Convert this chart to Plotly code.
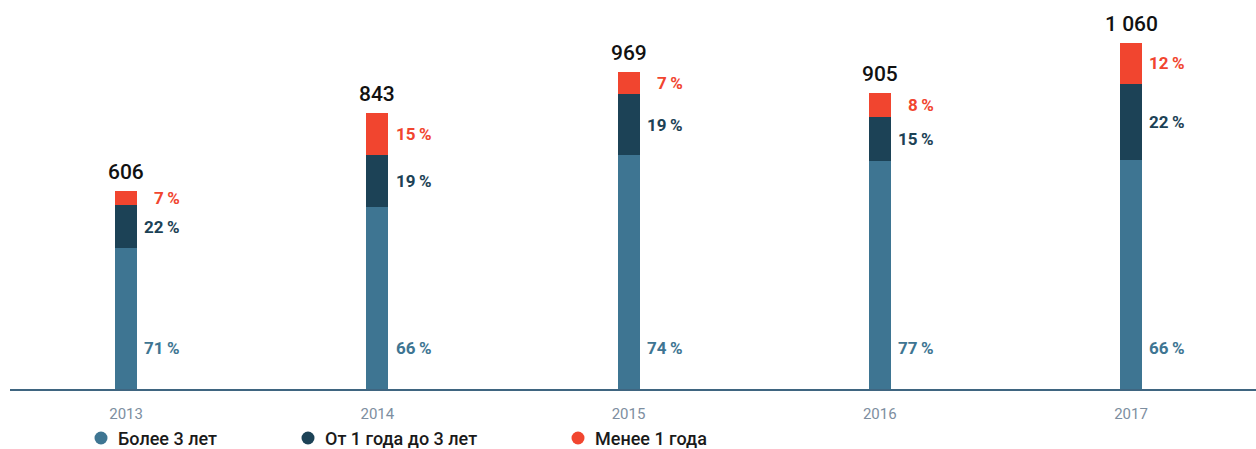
import plotly.graph_objects as go

years = ["2013", "2014", "2015", "2016", "2017"]
totals = [606, 843, 969, 905, 1060]
total_labels = ["606", "843", "969", "905", "1 060"]
pct_over3 = [71, 66, 74, 77, 66]
pct_1to3 = [22, 19, 19, 15, 22]
pct_under1 = [7, 15, 7, 8, 12]
series_names = ["Более 3 лет", "От 1 года до 3 лет", "Менее 1 года"]

C_BLUE = "#3e7592"
C_DARK = "#1c4256"
C_RED = "#f1452f"
FONT = "Roboto"

W, H = 1256, 449
ML, MR, MT, MB = 10, 0, 0, 60
plot_w = W - ML - MR
plot_h = H - MT - MB

v_over3 = [t * p / 100 for t, p in zip(totals, pct_over3)]
v_1to3 = [t * p / 100 for t, p in zip(totals, pct_1to3)]
v_under1 = [t - a - b for t, a, b in zip(totals, v_over3, v_1to3)]

fig = go.Figure()
for vals, col, name in [(v_over3, C_BLUE, series_names[0]),
                        (v_1to3, C_DARK, series_names[1]),
                        (v_under1, C_RED, series_names[2])]:
    fig.add_trace(go.Bar(x=years, y=vals, name=name, marker_color=col,
                         marker_line_width=0, width=0.0876, showlegend=False))

ann = []
dx = 0.224
for i, y in enumerate(years):
    ann.append(dict(x=i + dx, y=125, text=f"{pct_over3[i]}\u2009%", xanchor="right", yanchor="middle",
                    showarrow=False, font=dict(family=FONT, size=17, color=C_BLUE, weight="bold")))
    ann.append(dict(x=i + dx, y=v_over3[i] + v_1to3[i] / 2, text=f"{pct_1to3[i]}\u2009%", xanchor="right",
                    yanchor="middle", showarrow=False,
                    font=dict(family=FONT, size=17, color=C_DARK, weight="bold")))
    ann.append(dict(x=i + dx, y=v_over3[i] + v_1to3[i] + v_under1[i] / 2, text=f"{pct_under1[i]}\u2009%",
                    xanchor="right", yanchor="middle", showarrow=False,
                    font=dict(family=FONT, size=17, color=C_RED, weight="bold")))
    ann.append(dict(x=i, y=totals[i], text=total_labels[i], xanchor="center", yanchor="bottom", yshift=5,
                    showarrow=False, font=dict(family=FONT, size=21, color="#111111", weight=500)))

leg_cx = [101, 308, 578]
leg_cols = [C_BLUE, C_DARK, C_RED]
leg_y_px = 438
shapes = []
for cx, col, name in zip(leg_cx, leg_cols, series_names):
    px = (cx - ML) / plot_w
    py = (plot_h - (leg_y_px - MT)) / plot_h
    shapes.append(dict(type="circle", xref="paper", yref="paper", xsizemode="pixel", ysizemode="pixel",
                       xanchor=px, yanchor=py, x0=-6.5, x1=6.5, y0=-6.5, y1=6.5,
                       fillcolor=col, line_width=0))
    ann.append(dict(x=(cx + 15 - ML) / plot_w, y=py, xref="paper", yref="paper", text=name,
                    xanchor="left", yanchor="middle", showarrow=False,
                    font=dict(family=FONT, size=18, color="#1a1a1a", weight=500)))

fig.update_layout(
    width=W, height=H,
    margin=dict(l=ML, r=MR, t=MT, b=MB),
    barmode="stack",
    plot_bgcolor="white", paper_bgcolor="white",
    annotations=ann, shapes=shapes,
    xaxis=dict(type="category", range=[-0.462, 4.4975], showline=True, linecolor="#3f6580", linewidth=2,
               showgrid=False, zeroline=False, ticks="", ticklabelstandoff=10,
               tickfont=dict(family=FONT, size=15, color="#7d8ea0")),
    yaxis=dict(range=[0, 1190], visible=False, showgrid=False, zeroline=False),
)

fig.write_html("out.html", config={"displayModeBar": False},
               post_script="document.body.style.margin='0';document.body.style.overflow='hidden';")
